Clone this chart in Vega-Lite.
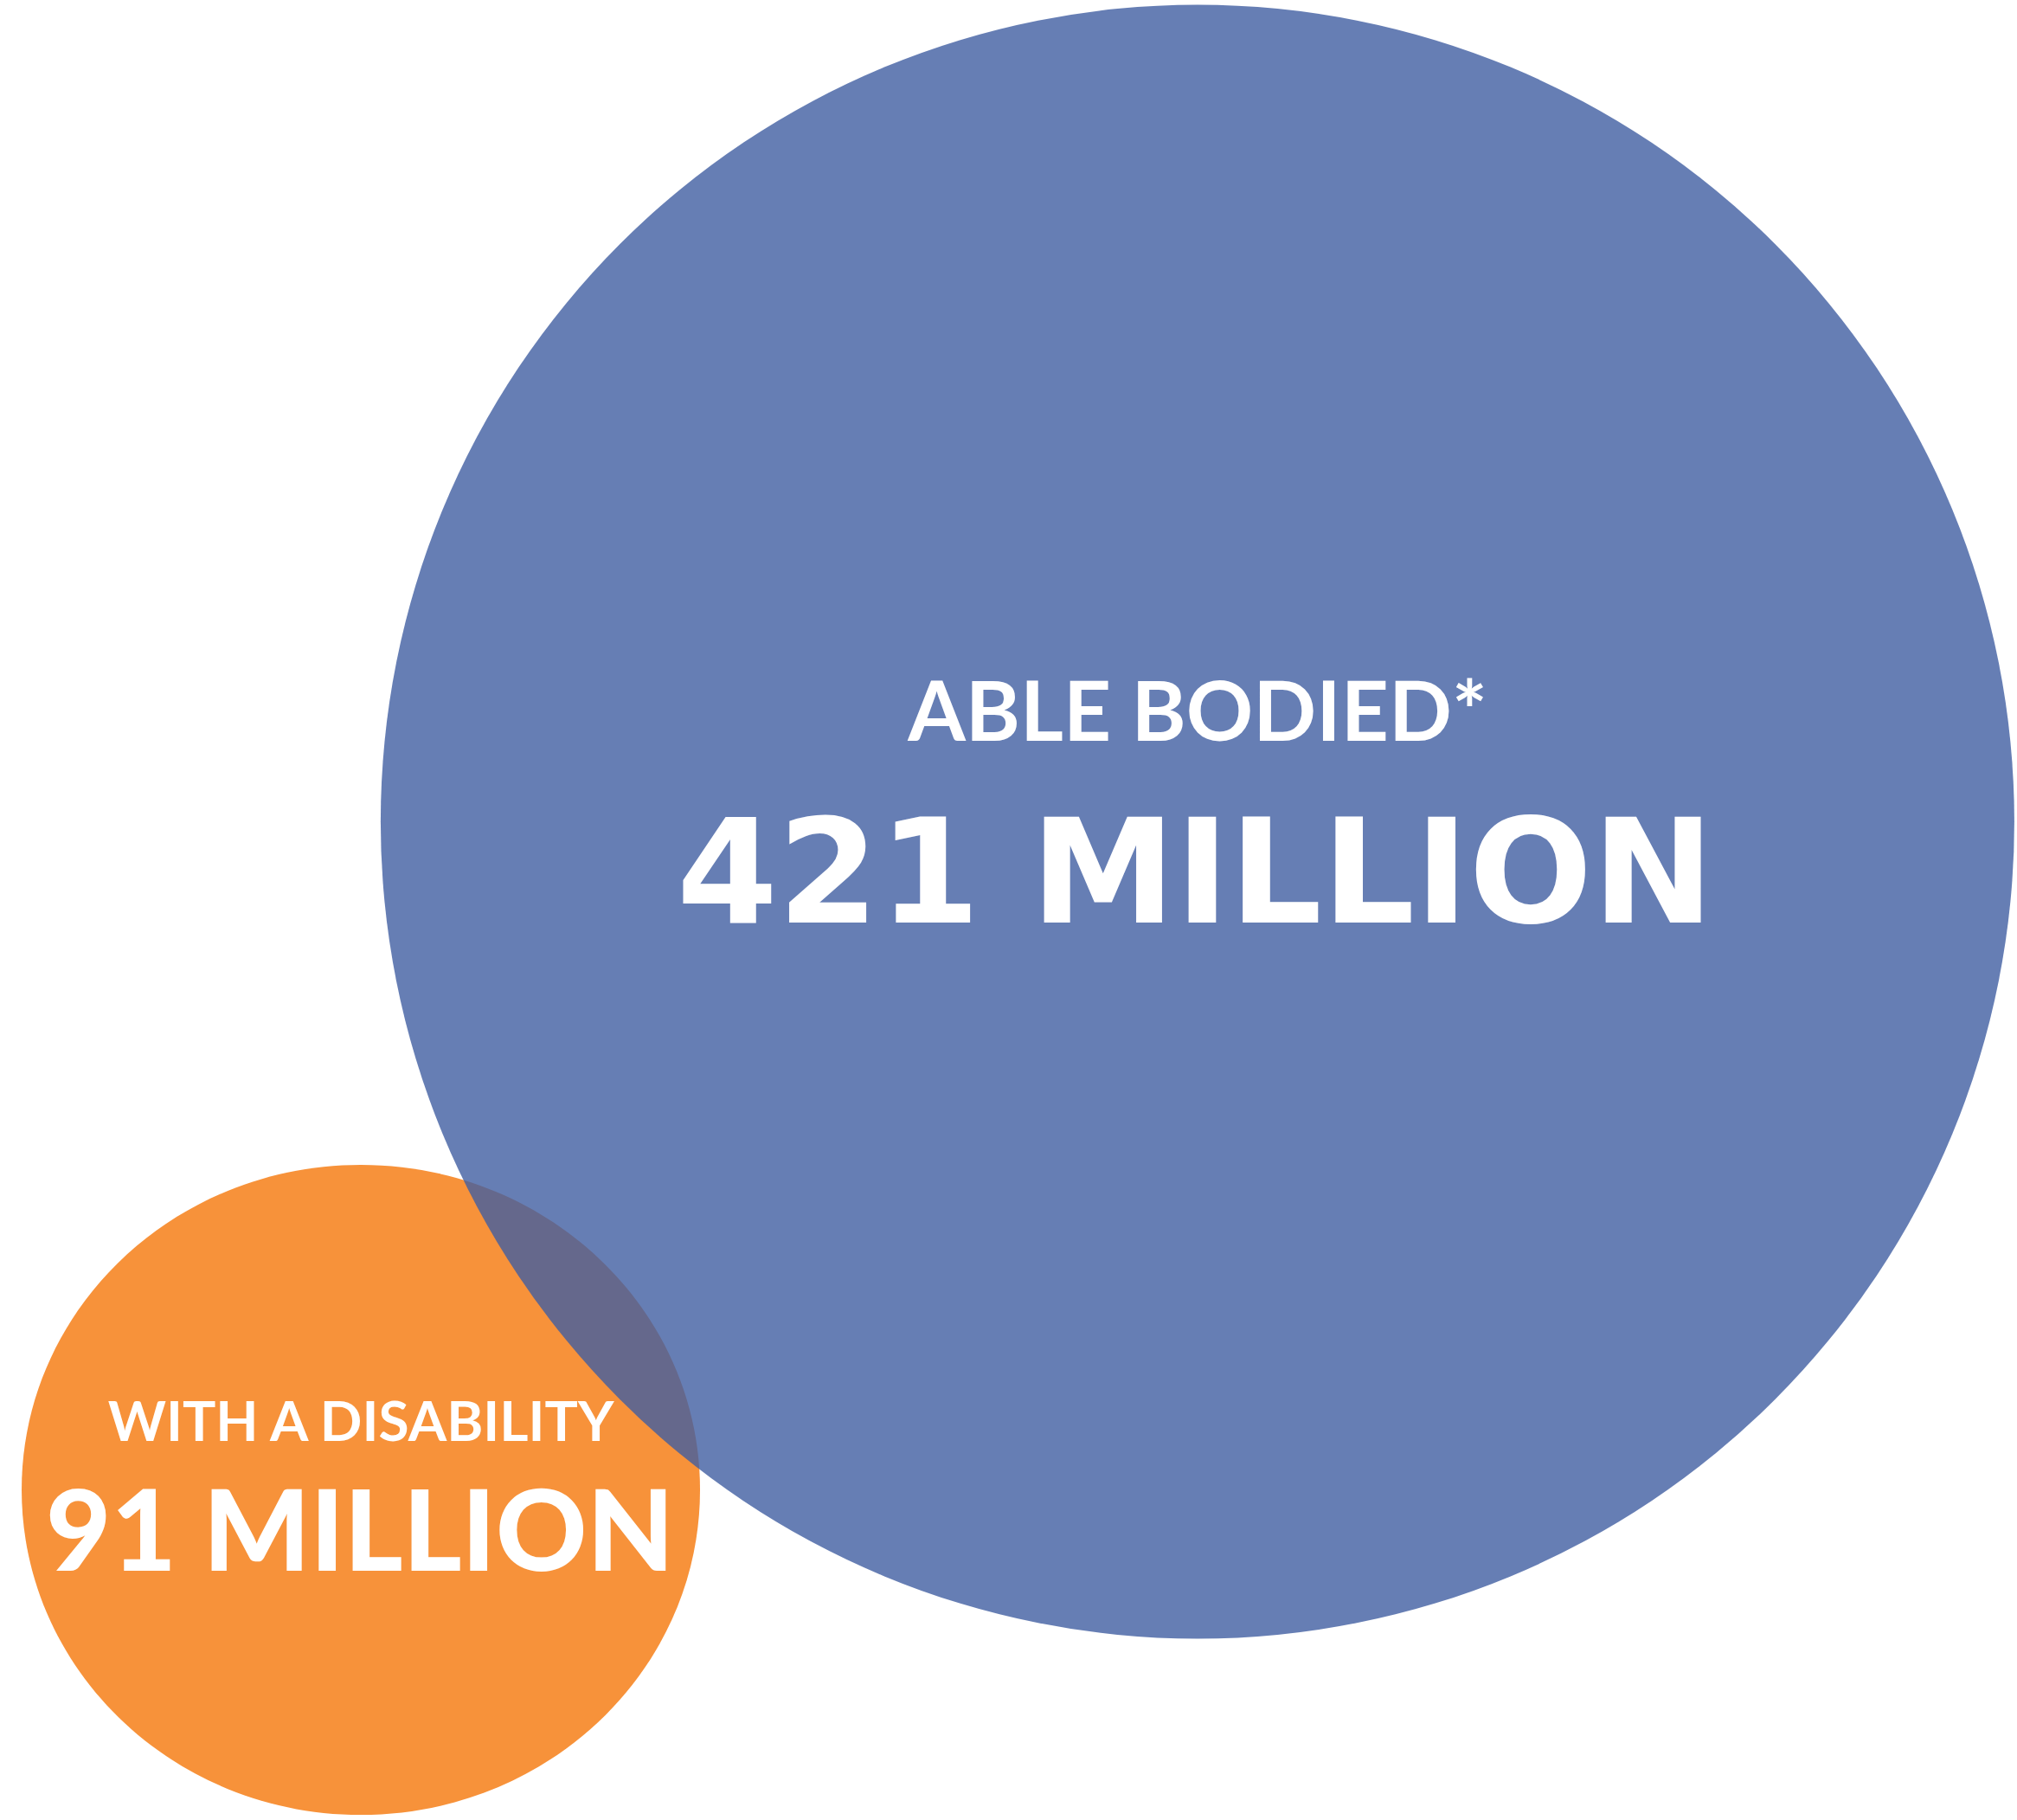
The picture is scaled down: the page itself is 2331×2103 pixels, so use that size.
{
  "$schema": "https://vega.github.io/schema/vega-lite/v6.json",
  "width": 2331,
  "height": 2103,
  "autosize": {"type": "fit", "contains": "padding"},
  "padding": 0,
  "background": "white",
  "config": {"view": {"stroke": null}},
  "data": {
    "values": [
      {"group": "With a disability", "label": "WITH A DISABILITY", "amount": "91 MILLION", "millions": 91, "x": 17.89, "y": 18.14},
      {"group": "Able bodied", "label": "ABLE BODIED*", "amount": "421 MILLION", "millions": 421, "x": 59.37, "y": 54.85}
    ]
  },
  "encoding": {
    "x": {"field": "x", "type": "quantitative", "scale": {"domain": [0, 100], "nice": false, "zero": false}, "axis": null},
    "y": {"field": "y", "type": "quantitative", "scale": {"domain": [0, 100], "nice": false, "zero": false}, "axis": null}
  },
  "layer": [
    {
      "mark": {"type": "point", "filled": true, "strokeWidth": 0},
      "encoding": {
        "size": {"field": "millions", "type": "quantitative", "scale": {"type": "linear", "domain": [91, 421], "range": [614656, 3564544], "zero": false}, "legend": null},
        "color": {"field": "group", "type": "nominal", "scale": {"domain": ["With a disability", "Able bodied"], "range": ["#F7923A", "#405EA1"]}, "legend": null},
        "opacity": {"field": "group", "type": "nominal", "scale": {"domain": ["With a disability", "Able bodied"], "range": [1, 0.8]}, "legend": null},
        "shape": {"field": "group", "type": "nominal", "scale": {"domain": ["With a disability", "Able bodied"], "range": ["M-1,0A1,0.958,0,1,0,1,0A1,0.958,0,1,0,-1,0Z", "circle"]}, "legend": null}
      }
    },
    {
      "transform": [{"filter": "datum.millions == 421"}],
      "mark": {"type": "text", "font": "Lato", "fontWeight": "bold", "fontSize": 96, "color": "white", "align": "center", "baseline": "alphabetic", "dy": -93.5, "dx": 0},
      "encoding": {"text": {"field": "label", "type": "nominal"}}
    },
    {
      "transform": [{"filter": "datum.millions == 421"}],
      "mark": {"type": "text", "font": "DejaVu Sans", "fontWeight": "bold", "fontSize": 168, "color": "white", "align": "center", "baseline": "alphabetic", "dy": 116.5, "dx": -2.5},
      "encoding": {"text": {"field": "amount", "type": "nominal"}}
    },
    {
      "transform": [{"filter": "datum.millions == 91"}],
      "mark": {"type": "text", "font": "Lato", "fontWeight": "bold", "fontSize": 64, "color": "white", "align": "center", "baseline": "alphabetic", "dy": -56.5, "dx": 0},
      "encoding": {"text": {"field": "label", "type": "nominal"}}
    },
    {
      "transform": [{"filter": "datum.millions == 91"}],
      "mark": {"type": "text", "font": "Lato", "fontWeight": 900, "fontSize": 130, "color": "white", "align": "center", "baseline": "alphabetic", "dy": 93.5, "dx": -1},
      "encoding": {"text": {"field": "amount", "type": "nominal"}}
    }
  ]
}
